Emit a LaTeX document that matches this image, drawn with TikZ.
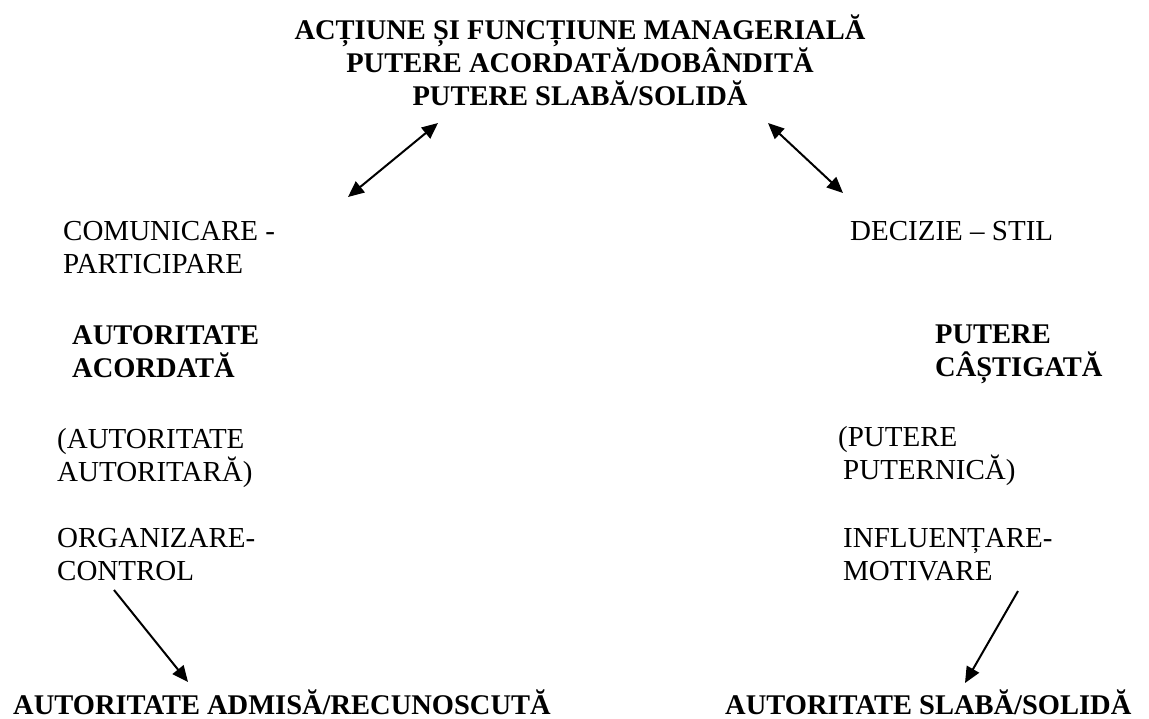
\documentclass[tikz,border=0pt]{standalone}
\usepackage{fontspec}
\setmainfont{Liberation Serif}
\usetikzlibrary{arrows.meta}
\begin{document}
\begin{tikzpicture}[x=1pt,y=-1pt,
  txt/.style={inner sep=0pt, anchor=base west, align=left, font=\fontsize{29}{33}\selectfont},
  btxt/.style={txt, font=\bfseries\fontsize{28.5}{33}\selectfont},
  ttl/.style={inner sep=0pt, anchor=base, align=center, font=\bfseries\fontsize{28.5}{33}\selectfont},
  arr/.style={line width=2pt, -{Triangle[length=16pt,width=14pt]}},
  darr/.style={line width=2pt, {Triangle[length=16pt,width=14pt]}-{Triangle[length=16pt,width=14pt]}}]
\useasboundingbox (0,0) rectangle (1149,718);
% title (base = baseline of last line)
\node[ttl] (title) at (580,105) {ACȚIUNE ȘI FUNCȚIUNE MANAGERIALĂ\\PUTERE ACORDATĂ/DOBÂNDITĂ\\PUTERE SLABĂ/SOLIDĂ};
% left column
\node[txt] (com) at (63,273) {COMUNICARE -\\PARTICIPARE};
\node[btxt] (aut) at (72,377) {AUTORITATE\\ACORDATĂ};
\node[txt] (autaut) at (57,481) {(AUTORITATE\\AUTORITARĂ)};
\node[txt] (org) at (57,580) {ORGANIZARE-\\CONTROL};
% right column
\node[txt] (dec) at (850,240) {DECIZIE – STIL};
\node[btxt] (put) at (935,376) {PUTERE\\CÂȘTIGATĂ};
\node[txt] (putput) at (838,479) {(PUTERE\\\hspace*{5pt}PUTERNICĂ)};
\node[txt] (inf) at (843,580) {INFLUENȚARE-\\MOTIVARE};
% bottom
\node[btxt] (admisa) at (13,714) {AUTORITATE ADMISĂ/RECUNOSCUTĂ};
\node[btxt] (slaba) at (725,714) {AUTORITATE SLABĂ/SOLIDĂ};
% arrow ends
\coordinate (tl1) at (348,197);
\coordinate (tl2) at (438,123);
\coordinate (tr1) at (768,123);
\coordinate (tr2) at (843,193);
\coordinate (bl1) at (114,590);
\coordinate (bl2) at (188,682);
\coordinate (br1) at (1018,591);
\coordinate (br2) at (965,683);
\draw[darr] (tl1) -- (tl2);
\draw[darr] (tr1) -- (tr2);
\draw[arr] (bl1) -- (bl2);
\draw[arr] (br1) -- (br2);
\end{tikzpicture}
\end{document}
